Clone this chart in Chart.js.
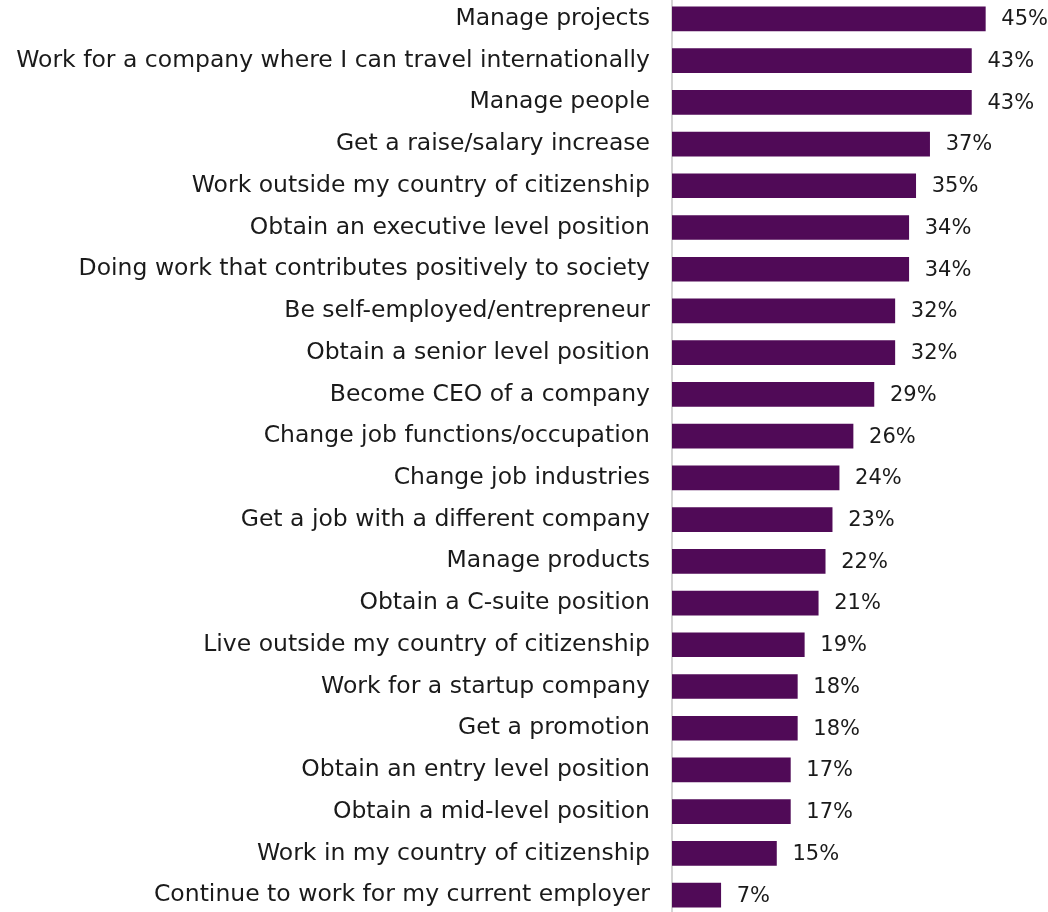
<!DOCTYPE html>
<html>
<head>
<meta charset="utf-8">
<script src="https://cdn.jsdelivr.net/npm/chart.js@4"></script>
<style>
  body { margin: 0; background: #fff; overflow: hidden; }
  #wrap { position: absolute; left: 0; top: -2px; width: 1048px; height: 918px; }
</style>
</head>
<body>
<div id="wrap"><canvas id="goals"></canvas></div>
<script>
// career goals, share of respondents (%)
const labels = [
    'Manage projects',
    'Work for a company where I can travel internationally',
    'Manage people',
    'Get a raise/salary increase',
    'Work outside my country of citizenship',
    'Obtain an executive level position',
    'Doing work that contributes positively to society',
    'Be self-employed/entrepreneur',
    'Obtain a senior level position',
    'Become CEO of a company',
    'Change job functions/occupation',
    'Change job industries',
    'Get a job with a different company',
    'Manage products',
    'Obtain a C-suite position',
    'Live outside my country of citizenship',
    'Work for a startup company',
    'Get a promotion',
    'Obtain an entry level position',
    'Obtain a mid-level position',
    'Work in my country of citizenship',
    'Continue to work for my current employer'
];
const values = [45, 43, 43, 37, 35, 34, 34, 32, 32, 29, 26, 24, 23, 22, 21, 19, 18, 18, 17, 17, 15, 7];

const barColor = '#500a57';
const textColor = '#1a1a1a';

// puts "NN%" just right of every bar
const valueLabels = {
    id: 'valueLabels',
    afterDatasetsDraw(chart) {
        const ctx = chart.ctx;
        const meta = chart.getDatasetMeta(0);
        ctx.save();
        ctx.font = '21px "DejaVu Sans"';
        ctx.fillStyle = textColor;
        ctx.textAlign = 'left';
        ctx.textBaseline = 'middle';
        meta.data.forEach((bar, i) => {
            ctx.fillText(values[i] + '%', bar.x + 16, bar.y + 1);
        });
        ctx.restore();
    }
};

const ctx = document.getElementById('goals').getContext('2d');
new Chart(ctx, {
    type: 'bar',
    data: {
        labels: labels,
        datasets: [{
            data: values,
            backgroundColor: barColor,
            borderWidth: 0,
            barThickness: 24
        }]
    },
    options: {
        indexAxis: 'y',
        responsive: true,
        maintainAspectRatio: false,
        animation: false,
        layout: { padding: 0 },
        plugins: {
            legend: { display: false },
            tooltip: { enabled: false }
        },
        scales: {
            x: {
                display: false,
                min: 0,
                max: 54
            },
            y: {
                grid: { display: false, drawTicks: false },
                border: { display: true, color: '#d4d4d4', width: 2 },
                ticks: {
                    autoSkip: false,
                    padding: 22,
                    color: textColor,
                    font: { family: 'DejaVu Sans', size: 23.5 }
                },
                afterFit(scale) {
                    scale.width = 672;
                    // no extra room for the first/last label
                    scale.paddingTop = 0;
                    scale.paddingBottom = 0;
                }
            }
        }
    },
    plugins: [valueLabels]
});
</script>
</body>
</html>
